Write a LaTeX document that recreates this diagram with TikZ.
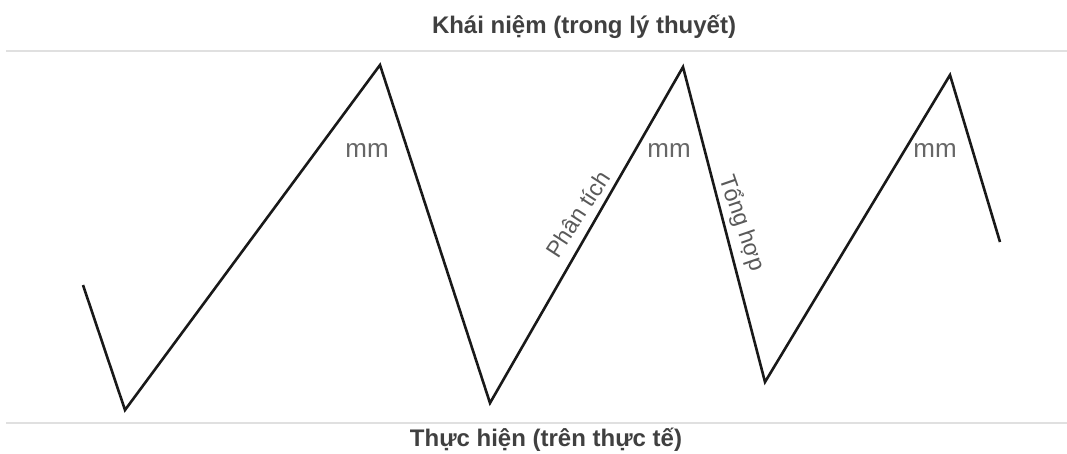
\documentclass[tikz,border=0pt]{standalone}
\usepackage{fontspec}
\setmainfont{Liberation Sans}
\begin{document}
\begin{tikzpicture}[x=1pt,y=-1pt,
  zig/.style={line width=2.6pt,draw=black!90,line join=miter},
  band/.style={line width=2pt,draw=black!12},
  title/.style={font=\fontsize{24}{26}\selectfont\bfseries,text=black!75,inner sep=0pt},
  lab/.style={font=\fontsize{23}{25}\selectfont,text=black!65,inner sep=0pt},
  mmlab/.style={font=\fontsize{26}{28}\selectfont,text=black!60,inner sep=0pt}]
\useasboundingbox (0,0) rectangle (1067,453);
\coordinate (t0) at (6,51);
\coordinate (t1) at (1067,51);
\coordinate (b0) at (6,423);
\coordinate (b1) at (1067,423);
\draw[band] (t0) -- (t1);
\draw[band] (b0) -- (b1);
\node[title] (top) at (584,27) {Khái niệm (trong lý thuyết)};
\node[title] (bot) at (546,440) {Thực hiện (trên thực tế)};
\coordinate (p0) at (83,285);
\coordinate (p1) at (125,410);
\coordinate (p2) at (380,65);
\coordinate (p3) at (490,403);
\coordinate (p4) at (683,67);
\coordinate (p5) at (765,382);
\coordinate (p6) at (950,75);
\coordinate (p7) at (1000,242);
\draw[zig] (p0) -- (p1) -- (p2) -- (p3) -- (p4) -- (p5) -- (p6) -- (p7);
\node[mmlab] (m1) at (367,150) {mm};
\node[mmlab] (m2) at (669,150) {mm};
\node[mmlab] (m3) at (935,151) {mm};
\node[lab,rotate=57] (pt) at (578,214) {Phân tích};
\node[lab,rotate=-71] (th) at (742,223) {Tổng hợp};
\end{tikzpicture}
\end{document}
